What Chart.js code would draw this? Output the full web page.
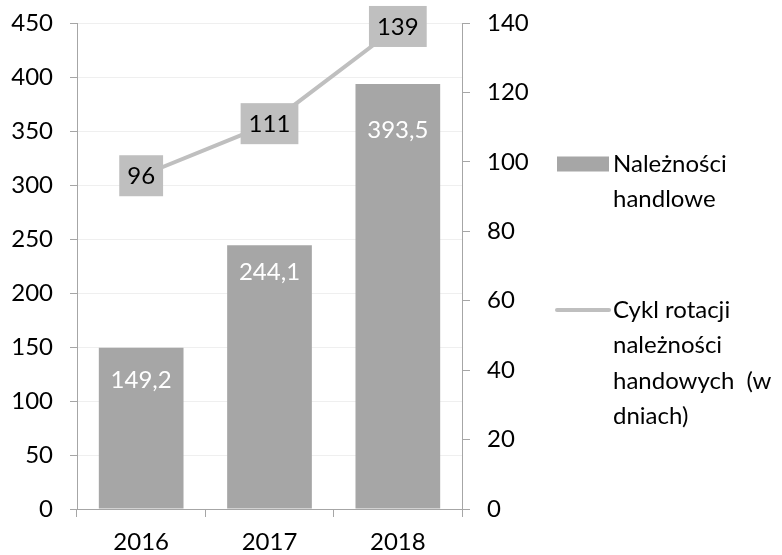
<!DOCTYPE html>
<html>
<head>
<meta charset="utf-8">
<script src="https://cdn.jsdelivr.net/npm/chart.js@4"></script>
<style>
html,body{margin:0;padding:0;background:#fff;}
#wrap{width:782px;height:555px;position:relative;}
</style>
</head>
<body>
<div id="wrap"><canvas id="c" width="782" height="555"></canvas></div>
<script>
const categories = ['2016', '2017', '2018'];
const receivables = [149.2, 244.1, 393.5];
const rotationDays = [96, 111, 139];
const receivablesLabels = ['149,2', '244,1', '393,5'];
const rotationLabels = ['96', '111', '139'];
const legendBarLines = ['Należności', 'handlowe'];
const legendLineLines = ['Cykl rotacji', 'należności', 'handowych  (w', 'dniach)'];

const FONT = 'Lato, "Open Sans", sans-serif';
const FS = 24;
const barLabelOffsets = [32, 27, 46];

const labelPlugin = {
  id: 'labels',
  afterDatasetsDraw(chart) {
    const ctx = chart.ctx;
    ctx.save();
    ctx.font = FS + 'px ' + FONT;
    ctx.textAlign = 'center';
    ctx.textBaseline = 'middle';
    const bm = chart.getDatasetMeta(1);
    bm.data.forEach((el, i) => {
      ctx.fillStyle = '#ffffff';
      ctx.fillText(receivablesLabels[i], el.x, el.y + barLabelOffsets[i]);
    });
    const lm = chart.getDatasetMeta(0);
    lm.data.forEach((el, i) => {
      const t = rotationLabels[i];
      const w = ctx.measureText(t).width + 16;
      const h = 41;
      ctx.fillStyle = '#bfbfbf';
      ctx.fillRect(el.x - w / 2, el.y - h / 2, w, h);
      ctx.fillStyle = '#000000';
      ctx.fillText(t, el.x, el.y + 1);
    });
    ctx.restore();
  }
};

const legendPlugin = {
  id: 'customLegend',
  afterDraw(chart) {
    const ctx = chart.ctx;
    ctx.save();
    ctx.font = FS + 'px ' + FONT;
    ctx.textAlign = 'left';
    ctx.textBaseline = 'middle';
    const x0 = 557, x1 = 609, tx = 613, lh = 35.5;
    let y = 164;
    ctx.fillStyle = '#a6a6a6';
    ctx.fillRect(x0, y - 7.5, x1 - x0, 15);
    ctx.fillStyle = '#000';
    legendBarLines.forEach((s, i) => ctx.fillText(s, tx, y + i * lh));
    y = 310;
    ctx.strokeStyle = '#bfbfbf';
    ctx.lineWidth = 4;
    ctx.lineCap = 'round';
    ctx.beginPath();
    ctx.moveTo(x0, y);
    ctx.lineTo(x1, y);
    ctx.stroke();
    ctx.fillStyle = '#000';
    legendLineLines.forEach((s, i) => ctx.fillText(s, tx, y + i * lh));
    ctx.restore();
  }
};

function noPad(s) { s.paddingTop = 0; s.paddingBottom = 0; }

new Chart(document.getElementById('c'), {
  type: 'bar',
  data: {
    labels: categories,
    datasets: [
      {
        type: 'line',
        label: 'Cykl rotacji należności handowych  (w dniach)',
        data: rotationDays,
        yAxisID: 'y1',
        borderColor: '#bfbfbf',
        borderWidth: 4,
        pointRadius: 0,
        tension: 0,
        order: 0
      },
      {
        type: 'bar',
        label: 'Należności handlowe',
        data: receivables,
        yAxisID: 'y',
        backgroundColor: '#a6a6a6',
        barPercentage: 0.66,
        categoryPercentage: 1.0,
        order: 1
      }
    ]
  },
  options: {
    responsive: false,
    animation: false,
    devicePixelRatio: 1,
    layout: { padding: { top: 23, right: 240, bottom: 0, left: 0 } },
    plugins: { legend: { display: false }, tooltip: { enabled: false } },
    scales: {
      x: {
        offset: true,
        grid: { offset: true, drawOnChartArea: false, tickLength: 8, tickColor: '#a6a6a6' },
        border: { color: '#a6a6a6', width: 1 },
        ticks: { color: '#000', font: { family: FONT, size: FS }, padding: 11 },
        afterFit(s) { s.height = 46; s.paddingLeft = 0; s.paddingRight = 0; }
      },
      y: {
        position: 'left',
        min: 0, max: 450,
        ticks: { stepSize: 50, color: '#000', font: { family: FONT, size: FS }, padding: 17 },
        grid: { color: '#efefef', tickLength: 7, tickColor: '#a6a6a6' },
        border: { color: '#a6a6a6', width: 1 },
        afterFit(s) { s.width = 77; noPad(s); }
      },
      y1: {
        position: 'right',
        min: 0, max: 140,
        ticks: { stepSize: 20, color: '#000', font: { family: FONT, size: FS }, padding: 17 },
        grid: { drawOnChartArea: false, tickLength: 8, tickColor: '#a6a6a6' },
        border: { color: '#a6a6a6', width: 1 },
        afterFit(s) { s.width = 80; noPad(s); }
      }
    }
  },
  plugins: [labelPlugin, legendPlugin]
});
</script>
</body>
</html>
